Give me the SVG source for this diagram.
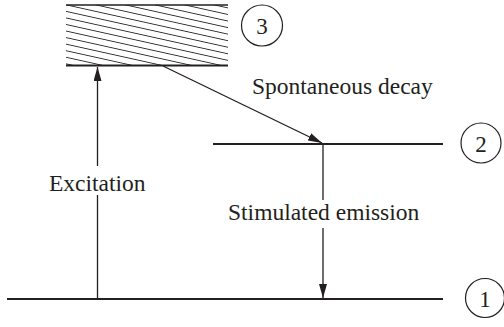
<svg xmlns="http://www.w3.org/2000/svg" width="504" height="327" viewBox="0 0 504 327">
<style>
.lvl{stroke:#231f20;stroke-width:2.2;fill:none}
.con{stroke:#231f20;stroke-width:1.3;fill:none}
.circ{stroke:#231f20;stroke-width:1.2;fill:#fff}
.t{font-family:"Liberation Serif","Times New Roman",serif;font-size:23.5px;fill:#231f20}
.n{font-family:"Liberation Serif","Times New Roman",serif;font-size:23px;fill:#231f20;text-anchor:middle}
</style>
<defs>
<pattern id="hatch" width="12" height="6.4" patternUnits="userSpaceOnUse" patternTransform="rotate(12.5)">
<line x1="0" y1="3.2" x2="12" y2="3.2" stroke="#231f20" stroke-width="0.9"/>
</pattern>
<marker id="ah" markerWidth="14" markerHeight="8" refX="14" refY="4" orient="auto" markerUnits="userSpaceOnUse">
<path d="M0,0 L14,4 L0,8 Z" fill="#231f20"/>
</marker>
</defs>
<rect width="504" height="327" fill="#fff"/>
<g id="level3">
<rect x="66" y="5" width="162" height="60" fill="url(#hatch)"/>
<line x1="66" y1="5" x2="228" y2="5" stroke="#231f20" stroke-width="1.5"/>
<line x1="66" y1="65.5" x2="228" y2="65.5" class="lvl"/>
</g>
<g id="level2"><line x1="213" y1="144" x2="443" y2="144" class="lvl"/></g>
<g id="level1"><line x1="7" y1="299" x2="443" y2="299" class="lvl"/></g>
<g id="label3"><circle cx="262" cy="25.5" r="20.5" class="circ"/><text x="262" y="34" class="n">3</text></g>
<g id="label2"><circle cx="481" cy="143" r="20" class="circ"/><text x="481" y="151.5" class="n">2</text></g>
<g id="label1"><circle cx="485" cy="298" r="19.5" class="circ"/><text x="485" y="306.5" class="n">1</text></g>
<g id="connectors">
<line x1="97.5" y1="299" x2="97.5" y2="67" class="con" marker-end="url(#ah)"/>
<line x1="163" y1="66" x2="322" y2="143" class="con" marker-end="url(#ah)"/>
<line x1="323" y1="144" x2="323" y2="298" class="con" marker-end="url(#ah)"/>
</g>
<g id="labels">
<rect x="47" y="166" width="102" height="29" fill="#fff"/>
<text x="49" y="191" class="t">Excitation</text>
<rect x="226" y="200" width="201" height="28" fill="#fff"/>
<text x="228" y="220" class="t">Stimulated emission</text>
<text x="252" y="94" class="t">Spontaneous decay</text>
</g>
</svg>
